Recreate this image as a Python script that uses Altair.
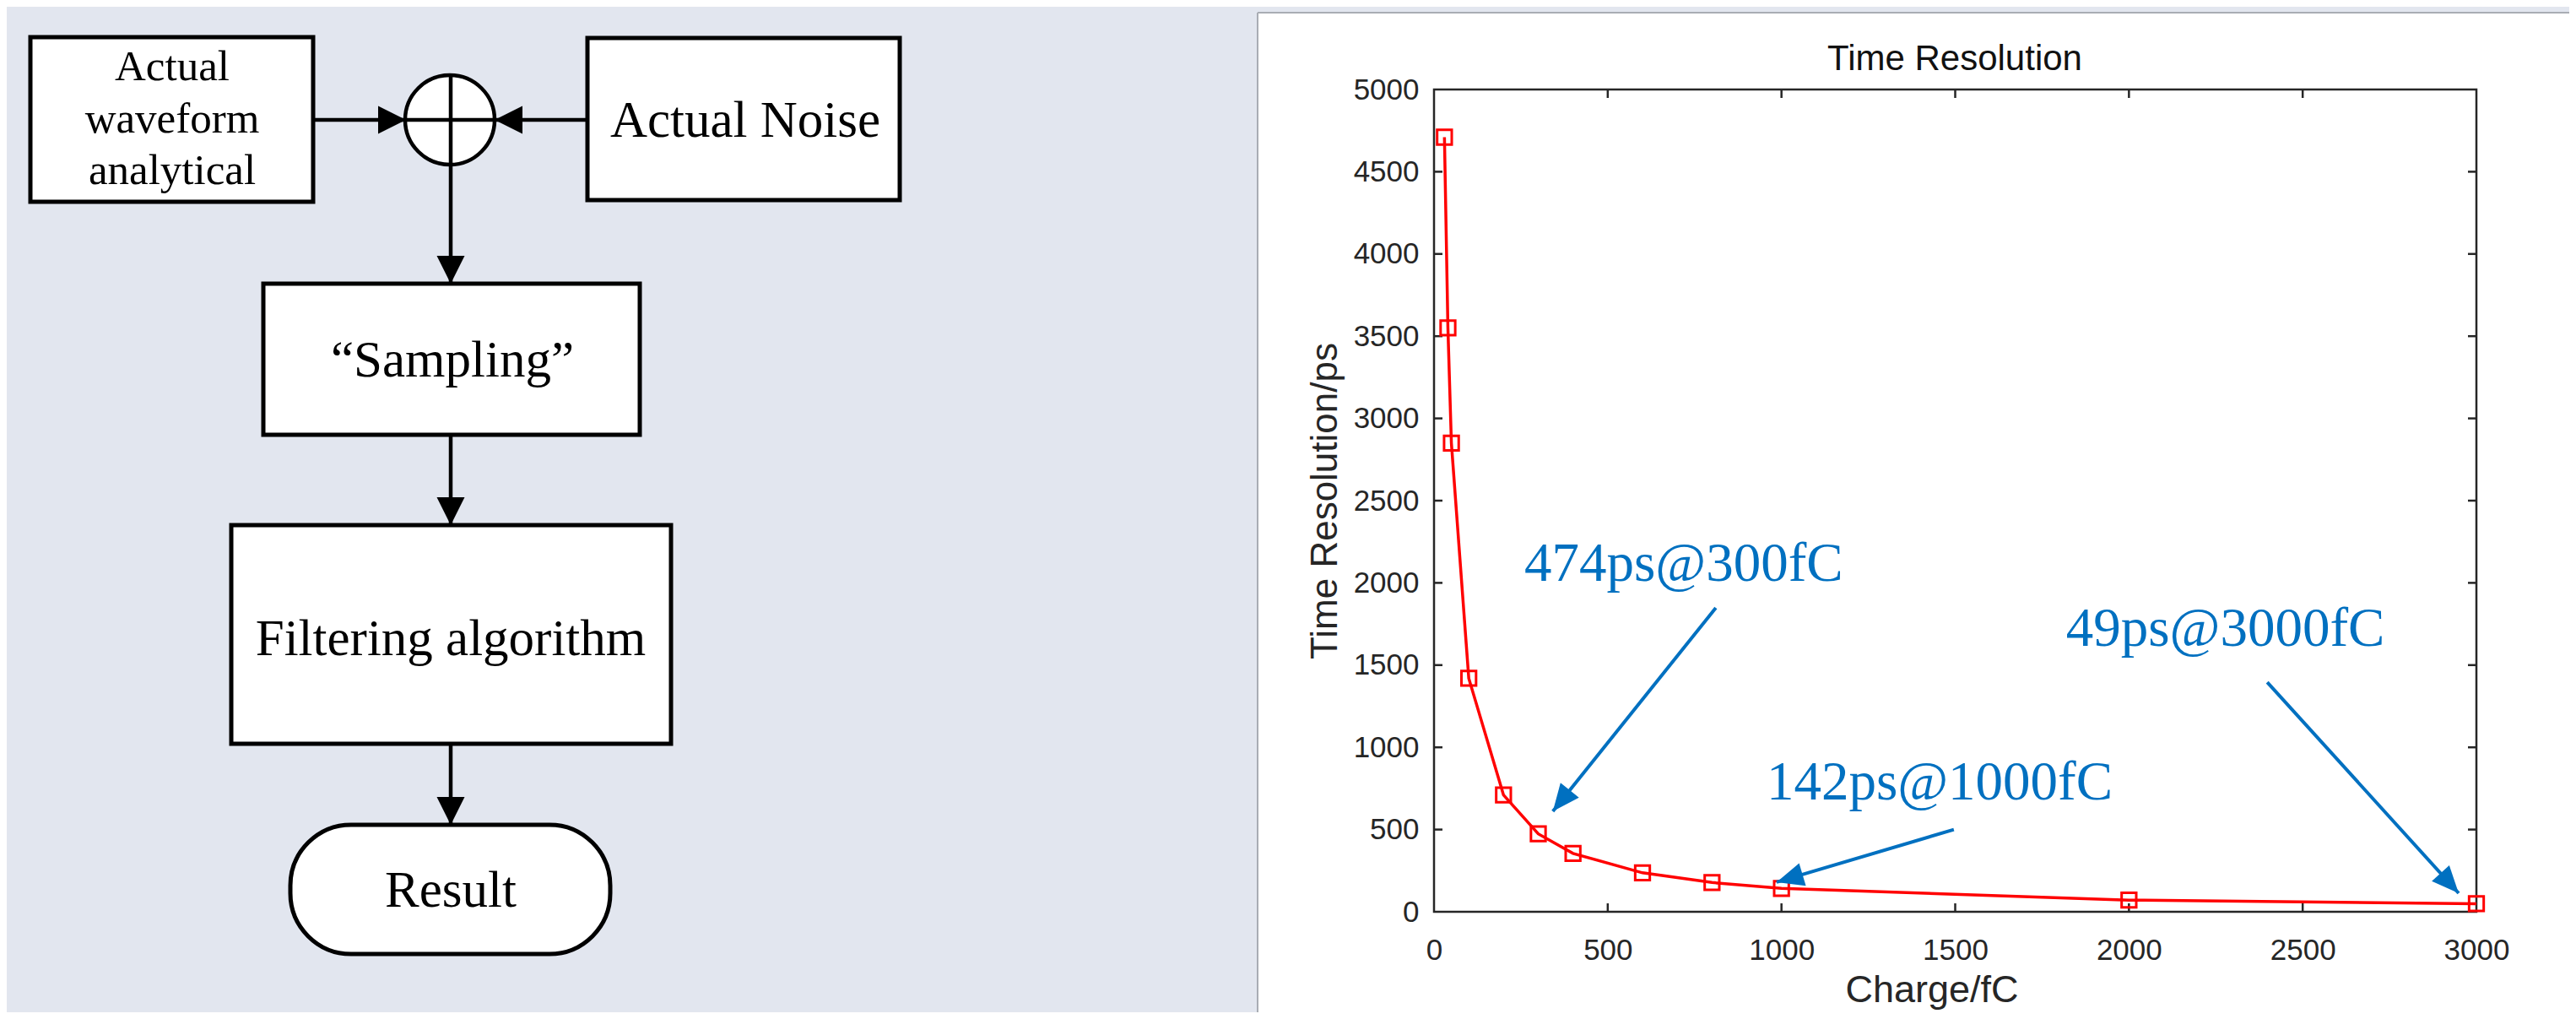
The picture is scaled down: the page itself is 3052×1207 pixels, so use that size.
import math
import altair as alt
import pandas as pd

# ---------------- chart data ----------------
charge_fc = [30, 40, 50, 100, 200, 300, 400, 600, 800, 1000, 2000, 3000]
time_res_ps = [4710, 3550, 2850, 1420, 710, 474, 355, 237, 178, 142, 71, 49]

x_tick_values = [0, 500, 1000, 1500, 2000, 2500, 3000]
y_tick_values = [0, 500, 1000, 1500, 2000, 2500, 3000, 3500, 4000, 4500, 5000]

chart_title = "Time Resolution"
x_title = "Charge/fC"
y_title = "Time Resolution/ps"

annotation_labels = ["474ps@300fC", "142ps@1000fC", "49ps@3000fC"]
annotation_label_x = [260, 957, 1819]      # fC (left edge of label)
annotation_label_y = [2010, 683, 1617]     # ps (baseline of label)
arrow_tail_x = [811, 1496, 2398]
arrow_tail_y = [1848, 500, 1396]
arrow_tip_x = [342, 986, 2949]
arrow_tip_y = [611, 180, 113]

# ---------------- flowchart content ----------------
flow_text = ["Actual", "waveform", "analytical", "Actual Noise",
             "\u201cSampling\u201d", "Filtering algorithm", "Result"]

# ---------------- layout (page pixels) ----------------
PAGE_W, PAGE_H = 3052, 1207
MARGIN = 8
PLOT_LEFT, PLOT_TOP = 1699, 106
PLOT_W, PLOT_H = 1235, 974
CANVAS_W, CANVAS_H = 3036, 1191
PAD = {
    "left": PLOT_LEFT - MARGIN,
    "top": PLOT_TOP - MARGIN,
    "right": CANVAS_W - (PLOT_LEFT - MARGIN) - PLOT_W,
    "bottom": CANVAS_H - (PLOT_TOP - MARGIN) - PLOT_H,
}
PANEL_X, PANEL_Y = 1490, 15
BG = "#E2E6EF"

flow_box_x = [36, 696, 312, 274]
flow_box_x2 = [371, 1066, 758, 795]
flow_box_y = [44, 45, 336, 622]
flow_box_y2 = [239, 237, 515, 881]
result_box = {"x": 344, "x2": 723, "y": 977, "y2": 1130}
junction = {"x": 533, "y": 142}
conn_x = [371, 534, 534, 534]
conn_x2 = [696, 534, 534, 534]
conn_y = [142, 89, 515, 881]
conn_y2 = [142, 336, 622, 977]
head_x = [481, 586, 534, 534, 534]
head_y = [142, 142, 336, 622, 977]
head_angle = [90, 270, 180, 180, 180]
flow_text_x = [204, 204, 204, 883, 536, 534, 534]
flow_text_y = [95, 157, 218, 162, 446, 776, 1074]
flow_text_size = [51, 51, 51, 61, 61, 61, 61]

FLOW_HEAD = "M0,0L-1,2L1,2Z"
NOTE_HEAD = "M0,0L-0.875,2L0.875,2Z"
BLUE = "#0070C0"
AXC = "#262626"


def canvas_x():
    return alt.Scale(domain=[0, PAGE_W], range=[-PLOT_LEFT, PAGE_W - PLOT_LEFT], nice=False, zero=False)


def canvas_y():
    return alt.Scale(domain=[0, PAGE_H], range=[-PLOT_TOP, PAGE_H - PLOT_TOP], nice=False, zero=False)


def cx(f):
    return alt.X(f"{f}:Q", scale=canvas_x(), axis=None)


def cy(f):
    return alt.Y(f"{f}:Q", scale=canvas_y(), axis=None)


# grey page background around the white chart panel
bg_rects = alt.Chart(pd.DataFrame({
    "x": [-20, -20], "x2": [PANEL_X, PAGE_W + 20], "y": [-20, -20], "y2": [PAGE_H + 20, PANEL_Y],
})).mark_rect(fill=BG, strokeWidth=0).encode(x=cx("x"), x2="x2:Q", y=cy("y"), y2="y2:Q")

panel_edge = alt.Chart(pd.DataFrame({
    "x": [PANEL_X, PANEL_X], "x2": [PANEL_X, PAGE_W + 20], "y": [PANEL_Y, PANEL_Y], "y2": [PAGE_H + 20, PANEL_Y],
})).mark_rule(color="#A9ADB4", strokeWidth=2).encode(x=cx("x"), x2="x2:Q", y=cy("y"), y2="y2:Q")

boxes = alt.Chart(pd.DataFrame({"x": flow_box_x, "x2": flow_box_x2, "y": flow_box_y, "y2": flow_box_y2})).mark_rect(
    fill="white", stroke="black", strokeWidth=5
).encode(x=cx("x"), x2="x2:Q", y=cy("y"), y2="y2:Q")

result = alt.Chart(pd.DataFrame([result_box])).mark_rect(
    fill="white", stroke="black", strokeWidth=5, cornerRadius=72
).encode(x=cx("x"), x2="x2:Q", y=cy("y"), y2="y2:Q")

junc = alt.Chart(pd.DataFrame([junction])).mark_point(
    shape="circle", size=106 * 106, filled=True, fill="white", stroke="black", strokeWidth=4.5, opacity=1
).encode(x=cx("x"), y=cy("y"))

conns = alt.Chart(pd.DataFrame({"x": conn_x, "x2": conn_x2, "y": conn_y, "y2": conn_y2})).mark_rule(
    color="black", strokeWidth=4.5
).encode(x=cx("x"), x2="x2:Q", y=cy("y"), y2="y2:Q")

heads = alt.Chart(pd.DataFrame({"x": head_x, "y": head_y, "a": head_angle})).mark_point(
    shape=FLOW_HEAD, size=33 * 33, filled=True, color="black", opacity=1, strokeWidth=0
).encode(x=cx("x"), y=cy("y"), angle=alt.Angle("a:Q", scale=None))

ftext = alt.Chart(pd.DataFrame({"t": flow_text, "x": flow_text_x, "y": flow_text_y, "s": flow_text_size})).mark_text(
    font="Liberation Serif", color="black", align="center", baseline="alphabetic"
).encode(x=cx("x"), y=cy("y"), text="t:N", size=alt.Size("s:Q", scale=None))

title_txt = alt.Chart(pd.DataFrame([{"t": chart_title, "x": 2316, "y": 83}])).mark_text(
    font="Liberation Sans", fontSize=42, color="#111111", align="center", baseline="alphabetic"
).encode(x=cx("x"), y=cy("y"), text="t:N")

# ---------------- data chart ----------------
def xs():
    return alt.Scale(domain=[0, 3000], nice=False, zero=False)


def ys():
    return alt.Scale(domain=[0, 5000], nice=False, zero=False)


TICK_PX = 10
tx = TICK_PX / PLOT_W * 3000
ty = TICK_PX / PLOT_H * 5000

x_axis = alt.Axis(
    orient="bottom", values=x_tick_values, format="d", title=x_title, grid=False, domain=False,
    ticks=False, labelPadding=28, labelFont="Liberation Sans", labelFontSize=35,
    labelColor=AXC, labelFlush=False, labelOverlap=False, titleFont="Liberation Sans", titleFontSize=45,
    titleFontWeight="normal", titleColor=AXC, titleX=PLOT_W / 2 - 28, titleY=106, titleBaseline="alphabetic",
    titleAlign="center",
)
y_axis = alt.Axis(
    orient="left", values=y_tick_values, format="d", title=y_title, grid=False, domain=False,
    ticks=False, labelPadding=18, labelFont="Liberation Sans", labelFontSize=35,
    labelColor=AXC, labelFlush=False, labelOverlap=False, titleFont="Liberation Sans", titleFontSize=44,
    titleFontWeight="normal", titleColor=AXC, titleX=-116, titleY=PLOT_H / 2, titleAngle=270,
    titleBaseline="alphabetic", titleAlign="center",
)

frame = alt.Chart(pd.DataFrame([{"x": 0, "x2": 3000, "y": 0, "y2": 5000}])).mark_rect(
    fillOpacity=0, stroke=AXC, strokeWidth=2.5
).encode(x=alt.X("x:Q", scale=xs(), axis=x_axis), x2="x2:Q", y=alt.Y("y:Q", scale=ys(), axis=y_axis), y2="y2:Q")

tick_rows = []
for t in x_tick_values[1:-1]:
    tick_rows.append({"x": t, "x2": t, "y": 0, "y2": ty})
    tick_rows.append({"x": t, "x2": t, "y": 5000, "y2": 5000 - ty})
for t in y_tick_values[1:-1]:
    tick_rows.append({"x": 0, "x2": tx, "y": t, "y2": t})
    tick_rows.append({"x": 3000, "x2": 3000 - tx, "y": t, "y2": t})
ticks = alt.Chart(pd.DataFrame(tick_rows)).mark_rule(color=AXC, strokeWidth=2.5).encode(
    x=alt.X("x:Q", scale=xs(), axis=None), x2="x2:Q", y=alt.Y("y:Q", scale=ys(), axis=None), y2="y2:Q"
)

series = pd.DataFrame({"charge": charge_fc, "res": time_res_ps})
line = alt.Chart(series).mark_line(color="#FF0000", strokeWidth=3.5).encode(
    x=alt.X("charge:Q", scale=xs(), axis=None), y=alt.Y("res:Q", scale=ys(), axis=None)
)
pts = alt.Chart(series).mark_point(
    shape="square", size=300, filled=False, color="#FF0000", strokeWidth=3, opacity=1
).encode(x=alt.X("charge:Q", scale=xs(), axis=None), y=alt.Y("res:Q", scale=ys(), axis=None))


def px_angle(x0, y0, x1, y1):
    dx = (x1 - x0) / 3000 * PLOT_W
    dy = -(y1 - y0) / 5000 * PLOT_H
    return (math.degrees(math.atan2(dx, -dy)) + 360) % 360


arr = pd.DataFrame({
    "x": arrow_tail_x, "y": arrow_tail_y, "x2": arrow_tip_x, "y2": arrow_tip_y,
    "a": [px_angle(a, b, c, d) for a, b, c, d in zip(arrow_tail_x, arrow_tail_y, arrow_tip_x, arrow_tip_y)],
})
shafts = alt.Chart(arr).mark_rule(color=BLUE, strokeWidth=4).encode(
    x=alt.X("x:Q", scale=xs(), axis=None), x2="x2:Q", y=alt.Y("y:Q", scale=ys(), axis=None), y2="y2:Q"
)
arr_heads = alt.Chart(arr).mark_point(
    shape=NOTE_HEAD, size=32 * 32, filled=True, color=BLUE, opacity=1, strokeWidth=0
).encode(x=alt.X("x2:Q", scale=xs(), axis=None), y=alt.Y("y2:Q", scale=ys(), axis=None),
         angle=alt.Angle("a:Q", scale=None))

labels = alt.Chart(pd.DataFrame({"t": annotation_labels, "x": annotation_label_x, "y": annotation_label_y})).mark_text(
    font="Liberation Serif", fontSize=65, color=BLUE, align="left", baseline="alphabetic"
).encode(x=alt.X("x:Q", scale=xs(), axis=None), y=alt.Y("y:Q", scale=ys(), axis=None), text="t:N")

chart = alt.layer(
    bg_rects, panel_edge, boxes, result, junc, conns, heads, ftext, title_txt,
    frame, ticks, line, pts, shafts, arr_heads, labels,
).resolve_scale(x="independent", y="independent").properties(
    width=PLOT_W, height=PLOT_H, autosize=alt.AutoSizeParams(type="none"), padding=PAD,
    background="white",
).configure_view(stroke=None)

chart.save("out.html", embed_options={"renderer": "svg", "actions": False})
